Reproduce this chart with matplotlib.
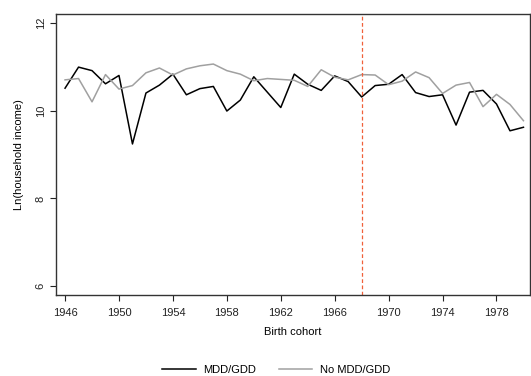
import matplotlib.pyplot as plt

plt.rcParams['font.family'] = ['Liberation Sans', 'DejaVu Sans']

years = list(range(1946, 1981))

# Ln(household income)
mdd = [10.51, 10.99, 10.91, 10.61, 10.80, 9.24, 10.40, 10.58, 10.83, 10.36,
       10.50, 10.55, 9.99, 10.24, 10.77, 10.42, 10.07, 10.83, 10.60, 10.46,
       10.79, 10.66, 10.31, 10.57, 10.60, 10.82, 10.41, 10.32, 10.36, 9.67,
       10.42, 10.46, 10.15, 9.54, 9.62]
no_mdd = [10.70, 10.73, 10.20, 10.82, 10.49, 10.57, 10.86, 10.97, 10.81, 10.95,
          11.02, 11.06, 10.91, 10.83, 10.68, 10.73, 10.71, 10.69, 10.55, 10.93,
          10.76, 10.70, 10.82, 10.81, 10.59, 10.67, 10.88, 10.75, 10.39, 10.58,
          10.64, 10.09, 10.37, 10.14, 9.77]

x_ticks = [1946, 1950, 1954, 1958, 1962, 1966, 1970, 1974, 1978]
y_ticks = [6, 8, 10, 12]
cutoff = 1968

fig = plt.figure(figsize=(5.31, 3.76), dpi=100)
ax = fig.add_axes([0.1055, 0.2154, 0.893, 0.7474])

ax.plot(years, mdd, color='black', lw=1.1, label='MDD/GDD')
ax.plot(years, no_mdd, color='#a0a0a0', lw=1.1, label='No MDD/GDD')
ax.axvline(cutoff, color='#f0603a', lw=0.9, linestyle=(0, (3, 2)))

ax.set_xlim(1945.33, 1980.5)
ax.set_ylim(5.8, 12.2)
ax.set_xticks(x_ticks)
ax.set_yticks(y_ticks)
ax.set_yticklabels([str(v) for v in y_ticks], rotation=90, va='center')
ax.tick_params(labelsize=8, length=4, width=0.8, colors='#222222')
ax.tick_params(axis='x', pad=5)

for s in ax.spines.values():
    s.set_color('#333333')
    s.set_linewidth(1.0)

ax.set_xlabel('Birth cohort', fontsize=8, labelpad=7)
ax.set_ylabel('Ln(household income)', fontsize=8, labelpad=8)

fig.legend(loc='center', bbox_to_anchor=(0.52, 0.015), ncol=2, frameon=False,
           fontsize=8, handlelength=3.0, handletextpad=0.7, columnspacing=2.0)

plt.savefig('out.png', dpi=100)
